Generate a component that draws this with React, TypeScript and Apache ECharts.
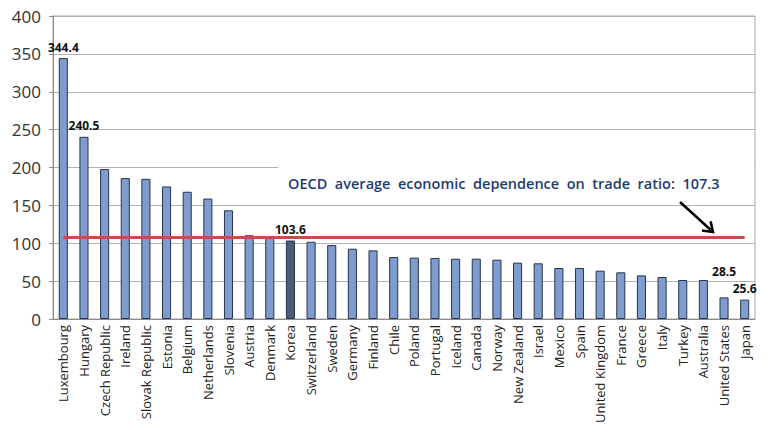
import { useEffect, useRef } from 'react';
import * as echarts from 'echarts';

// OECD trade dependence ratio by country
const countries = [
  'Luxembourg', 'Hungary', 'Czech Republic', 'Ireland', 'Slovak Republic', 'Estonia',
  'Belgium', 'Netherlands', 'Slovenia', 'Austria', 'Denmark', 'Korea', 'Switzerland',
  'Sweden', 'Germany', 'Finland', 'Chile', 'Poland', 'Portugal', 'Iceland', 'Canada',
  'Norway', 'New Zealand', 'Israel', 'Mexico', 'Spain', 'United Kingdom', 'France',
  'Greece', 'Italy', 'Turkey', 'Australia', 'United States', 'Japan',
];
const ratios = [
  344.4, 240.5, 198, 186, 185, 175, 168, 159, 143.5, 110.5, 109, 103.6, 102,
  97.7, 92.8, 90.6, 81.8, 81, 80.6, 79.6, 79.6, 78.3, 74.4, 73.5, 67.3, 67.3,
  63.8, 61.6, 57.6, 55.4, 51.5, 51.5, 28.5, 25.6,
];
const labelled = ['Luxembourg', 'Hungary', 'Korea', 'United States', 'Japan'];
const highlight = 'Korea';
const oecdAverage = 107.3;
const noteWords = ['OECD', 'average', 'economic', 'dependence', 'on', 'trade', 'ratio:'];
const yTicks = { min: 0, max: 400, interval: 50 };

function App() {
  const chartRef = useRef<HTMLDivElement>(null);

  useEffect(() => {
    if (!chartRef.current) return;
    document.body.style.margin = '0';
    const chart = echarts.init(chartRef.current, null, { renderer: 'svg' });

    const data = countries.map((name, i) => ({
      value: ratios[i],
      itemStyle: name === highlight ? { color: '#4e5c77' } : undefined,
      label: labelled.includes(name)
        ? {
            show: true,
            position: 'top' as const,
            offset: name === 'United States' ? [0, -15] : [0, 0],
            formatter: '{c}',
            color: '#111',
            fontWeight: 'bold' as const,
            fontSize: 12,
            fontFamily: 'Open Sans',
          }
        : undefined,
    }));

    chart.setOption({
      animation: false,
      grid: {
        left: 53, right: 12, top: 16, bottom: 116,
        show: true, borderColor: '#a6a6a6', borderWidth: 1,
      },
      xAxis: {
        type: 'category',
        data: countries,
        axisLine: { lineStyle: { color: '#8c8c8c' } },
        axisTick: { length: 5, lineStyle: { color: '#8c8c8c' } },
        axisLabel: {
          rotate: 90, interval: 0, margin: 6,
          fontSize: 13, color: '#222', fontFamily: 'Open Sans',
        },
      },
      yAxis: {
        type: 'value',
        ...yTicks,
        axisLine: { show: true, lineStyle: { color: '#8c8c8c' } },
        axisTick: { show: true, length: 4, lineStyle: { color: '#8c8c8c' } },
        axisLabel: { fontSize: 17, color: '#333', margin: 12, fontFamily: 'Open Sans' },
        splitLine: { lineStyle: { color: '#b3b3b3' } },
      },
      series: [
        {
          type: 'bar',
          data,
          barWidth: '44%',
          itemStyle: { color: '#7e9dce', borderColor: '#26344d', borderWidth: 1 },
          markLine: {
            silent: true,
            symbol: 'none',
            label: { show: false },
            lineStyle: { color: '#c0504d', width: 3, type: 'solid' },
            data: [[
              { coord: [0, oecdAverage] },
              { coord: [countries.length - 1, oecdAverage] },
            ]],
          },
        },
      ],
      graphic: [
        { type: 'rect', shape: { x: 278, y: 161, width: 476, height: 38 }, style: { fill: '#fff' }, z: 50 },
        {
          type: 'text', x: 288, y: 183, z: 51,
          style: {
            text: [...noteWords, String(oecdAverage)].join('  '),
            fill: '#1f3b70', font: '600 14.5px "Open Sans"', textVerticalAlign: 'middle',
          },
        },
        { type: 'line', shape: { x1: 680, y1: 202, x2: 713, y2: 232 }, style: { stroke: '#000', lineWidth: 2.5 }, z: 51 },
        {
          type: 'polyline', shape: { points: [[702, 230.6], [713, 232], [710.6, 221.3]] },
          style: { stroke: '#000', lineWidth: 2.5, fill: 'none' }, z: 51,
        },
      ],
    });

    return () => chart.dispose();
  }, []);

  return (
    <div
      ref={chartRef}
      style={{ position: 'absolute', left: 0, top: 0, width: 767, height: 435, background: '#fff' }}
    />
  );
}

export default App;
